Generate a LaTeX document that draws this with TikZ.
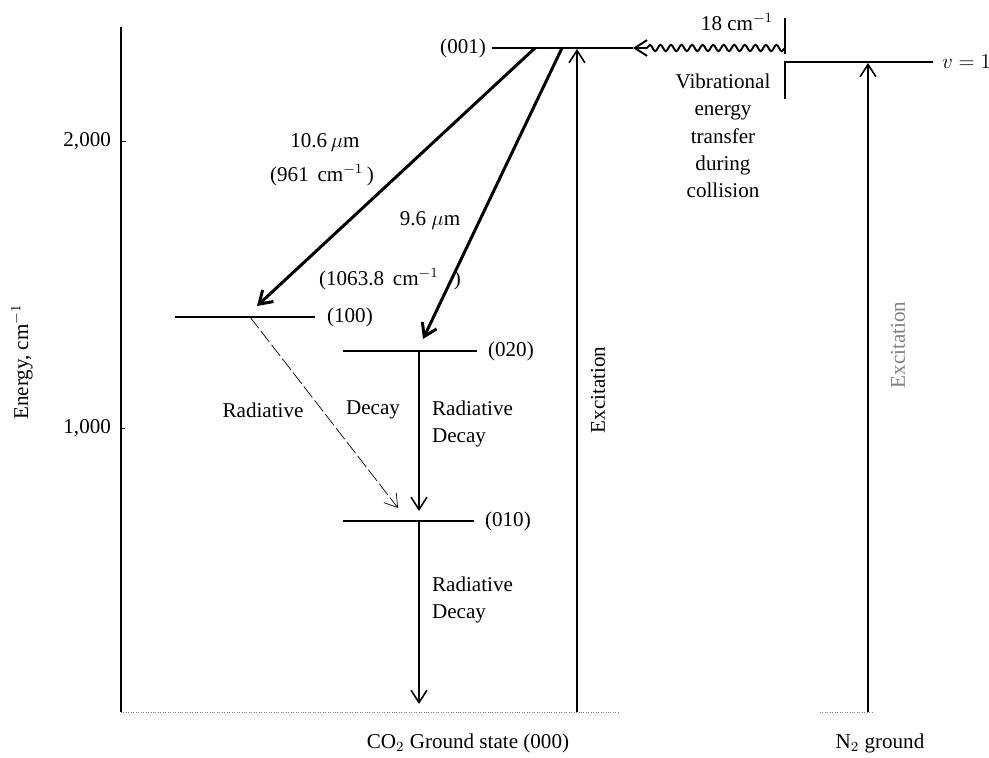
\documentclass[tikz,border=0pt]{standalone}
\usepackage{fontspec}
\setmainfont{Liberation Serif}
\usetikzlibrary{arrows.meta,decorations.pathmorphing}
\tikzset{lab/.style={font=\fontsize{12}{15.5}\selectfont, inner sep=1pt},
  lev/.style={line width=1.1pt},
  bar/.style={-{Straight Barb[length=7pt,width=9pt]}}}
\begin{document}
\begin{tikzpicture}[x=0.02cm,y=-0.02cm]
\useasboundingbox (0,0) rectangle (989,757);
\coordinate (ax0) at (121,712); \coordinate (ax1) at (121,27);
\draw [thick] (ax0) -- (ax1);
\draw [thin] (121,141) -- (126,141) (121,428) -- (125,428);
\node[lab,anchor=east] (y2) at (113,141) {2,000};
\node[lab,anchor=east] (y1) at (113,428) {1,000};
\node[lab,rotate=90] (ylab) at (22,362) {Energy, cm$^{-1}$};
\draw [gray,densely dotted] (ax0) -- (620,712) (820,712) -- (872,712);
\coordinate (l001w) at (492,48); \coordinate (l001e) at (633,48);
\coordinate (l100w) at (175,317); \coordinate (l100e) at (315,317);
\coordinate (l020w) at (343,351); \coordinate (l020e) at (477,351);
\coordinate (l010w) at (343,521); \coordinate (l010e) at (474,521);
\coordinate (nv1w) at (785,62); \coordinate (nv1e) at (933,62);
\draw [lev] (l001w) -- (l001e);
\draw [lev] (l100w) -- (l100e);
\draw [lev] (l020w) -- (l020e);
\draw [lev] (l010w) -- (l010e);
\draw [lev] (785,99) -- (nv1w) -- (nv1e);
\draw [lev] (785,18) -- (785,54);
\node[lab,anchor=east] (t001) at (488,48) {(001)};
\node[lab,anchor=west] (t100) at (325,317) {(100)};
\node[lab,anchor=west] (t020) at (486,351) {(020)};
\node[lab,anchor=west] (t010) at (483,521) {(010)};
\node[lab,anchor=west] (tv1) at (940,62) {$v=1$};
\coordinate (s106) at (535,48); \coordinate (e106) at (257,306);
\coordinate (s96) at (562,48); \coordinate (e96) at (423,339);
\draw [bar,line width=1.7pt] (s106) -- (e106);
\draw [bar,line width=1.7pt] (s96) -- (e96);
\node[lab] (w106) at (325,143) {10.6$\,\mu$m};
\node[lab] (k106) at (322,175) {(961\, cm$^{-1}$\,)};
\node[lab] (w96) at (430,221) {9.6 $\mu$m};
\node[lab] (k96) at (390,279) {(1063.8\, cm$^{-1}$\;\;\,)};
\coordinate (d100) at (250,317); \coordinate (d010) at (398,508);
\draw [bar,thin,dash pattern=on 8pt off 2pt] (d100) -- (d010);
\node[lab] (r1) at (263,410) {Radiative};
\node[lab] (r2) at (373,410) {Decay};
\coordinate (a020) at (419,351); \coordinate (a010) at (419,511);
\draw [bar,line width=0.9pt] (a020) -- (a010);
\node[lab,align=left,anchor=west] (r3) at (430,424) {Radiative\\Decay};
\coordinate (b010) at (419,521); \coordinate (b000) at (419,704);
\draw [bar,line width=0.9pt] (b010) -- (b000);
\node[lab,align=left,anchor=west] (r4) at (430,600) {Radiative\\Decay};
\coordinate (x1) at (577,712); \coordinate (x1t) at (577,49);
\draw [bar,line width=0.9pt] (x1) -- (x1t);
\node[lab,rotate=90] (tx1) at (598,390) {Excitation};
\coordinate (x2) at (868,712); \coordinate (x2t) at (868,63);
\draw [bar,line width=0.9pt] (x2) -- (x2t);
\node[lab,rotate=90,gray] (tx2) at (898,345) {Excitation};
\coordinate (wv) at (785,48);
\draw [bar,line width=1.1pt,decorate,decoration={snake,amplitude=1.8pt,segment length=6pt,post length=7pt}] (wv) -- (l001e);
\node[lab] (t18) at (737,22) {18 cm$^{-1}$};
\node[lab,align=center] (vib) at (723,136) {Vibrational\\energy\\transfer\\during\\collision};
\node[lab] (g1) at (468,743) {CO$_2$ Ground state (000)};
\node[lab] (g2) at (880,743) {N$_2$ ground};
\end{tikzpicture}
\end{document}
